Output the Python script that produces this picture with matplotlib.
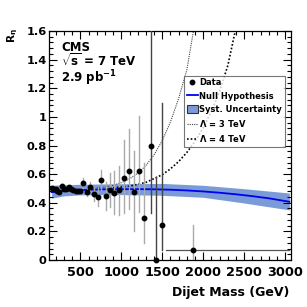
import matplotlib
matplotlib.use("Agg")
import matplotlib.pyplot as plt
from matplotlib.lines import Line2D
from matplotlib.patches import Patch
from matplotlib.ticker import MultipleLocator

plt.rcParams['font.family'] = ['DejaVu Sans']
plt.rcParams['font.weight'] = 'bold'
plt.rcParams['mathtext.fontset'] = 'custom'
plt.rcParams['mathtext.rm'] = 'DejaVu Sans'
plt.rcParams['mathtext.bf'] = 'DejaVu Sans:bold'
plt.rcParams['mathtext.it'] = 'DejaVu Sans:italic'
plt.rcParams['mathtext.default'] = 'bf'

# data points (dijet mass in GeV, ratio R_eta)
mass = [151, 175, 200, 219, 244, 273, 301, 329, 358, 386, 414, 444, 472, 500,
        536, 578, 622, 670, 712, 756, 809, 862, 914, 972, 1029, 1090, 1151,
        1216, 1280, 1358, 1427, 1500, 1870]
ratio = [0.501, 0.498, 0.494, 0.484, 0.475, 0.515, 0.494, 0.496, 0.508, 0.494,
         0.489, 0.484, 0.482, 0.480, 0.540, 0.475, 0.512, 0.459, 0.440, 0.559,
         0.447, 0.487, 0.470, 0.487, 0.575, 0.624, 0.473, 0.624, 0.296, 0.800,
         0.0, 0.247, 0.068]
err_lo = [0.008, 0.008, 0.008, 0.008, 0.008, 0.01, 0.01, 0.01, 0.01, 0.012,
          0.012, 0.012, 0.012, 0.012, 0.035, 0.025, 0.03, 0.045, 0.06, 0.07,
          0.10, 0.12, 0.15, 0.17, 0.245, 0.27, 0.27, 0.29, 0.18, 0.47,
          0.0, 0.18, 0.068]
err_hi = [0.008, 0.008, 0.008, 0.008, 0.008, 0.01, 0.01, 0.01, 0.01, 0.012,
          0.012, 0.012, 0.012, 0.012, 0.035, 0.025, 0.03, 0.045, 0.06, 0.07,
          0.10, 0.12, 0.15, 0.17, 0.263, 0.29, 0.29, 0.38, 0.38, 1.0,
          0.58, 0.85, 0.18]
dark_idx = [29, 30, 31]          # points drawn with dark error bars
last_xerr = [330, 1175]          # wide last bin

# null hypothesis and systematic band
null_m = [150, 250, 400, 600, 800, 1000, 1200, 1400, 1600, 1800, 2000, 2200,
          2400, 2600, 2800, 3050]
null_r = [0.474, 0.480, 0.486, 0.491, 0.494, 0.495, 0.495, 0.494, 0.491, 0.486,
          0.479, 0.470, 0.459, 0.446, 0.431, 0.407]
band_m = [150, 300, 500, 1000, 1500, 2000, 2500, 3050]
band_lo = [0.432, 0.448, 0.455, 0.457, 0.452, 0.438, 0.398, 0.350]
band_hi = [0.522, 0.526, 0.529, 0.533, 0.535, 0.522, 0.498, 0.468]

# contact interaction curves
lam3_m = [700, 800, 900, 1000, 1100, 1200, 1300, 1400, 1500, 1600, 1700, 1800, 1880]
lam3_r = [0.503, 0.509, 0.522, 0.540, 0.567, 0.605, 0.660, 0.735, 0.835, 0.965, 1.13, 1.33, 1.60]
lam4_m = [900, 1100, 1300, 1500, 1600, 1700, 1800, 1900, 2000, 2100, 2200, 2300, 2390]
lam4_r = [0.504, 0.516, 0.542, 0.596, 0.637, 0.688, 0.752, 0.830, 0.925, 1.04, 1.18, 1.36, 1.60]

xticks = [500, 1000, 1500, 2000, 2500, 3000]
yticks = [0, 0.2, 0.4, 0.6, 0.8, 1.0, 1.2, 1.4, 1.6]
ytick_labels = ['0', '0.2', '0.4', '0.6', '0.8', '1', '1.2', '1.4', '1.6']

W = 307
fig = plt.figure(figsize=(3.07, 3.07), dpi=100)
ax = fig.add_axes([49 / W, 1 - 260 / W, 242 / W, 229 / W])

band_col = '#7b9bd8'
ax.fill_between(band_m, band_lo, band_hi, color=band_col, lw=0, zorder=1)
ax.plot(null_m, null_r, color='#0000f0', lw=1.3, zorder=2)
ax.plot(lam3_m, lam3_r, color='#444444', lw=0.8, ls=(0, (1, 1)), zorder=2)
ax.plot(lam4_m, lam4_r, color='black', lw=1.2, ls=(0, (1, 1.2)), zorder=2)

for i in range(len(mass)):
    col = '#444444' if i in dark_idx else '#aaaaaa'
    ax.plot([mass[i], mass[i]], [ratio[i] - err_lo[i], ratio[i] + err_hi[i]],
            color=col, lw=1.0, zorder=3)
ax.plot([mass[-1] - last_xerr[0], mass[-1] + last_xerr[1]], [ratio[-1], ratio[-1]],
        color='#555555', lw=0.9, zorder=3)
ax.plot(mass, ratio, 'o', color='black', ms=3.2, zorder=4, clip_on=False)

ax.set_xlim(118, 3070)
ax.set_ylim(0, 1.6)
ax.set_xticks(xticks)
ax.set_yticks(yticks)
ax.set_yticklabels(ytick_labels)
ax.xaxis.set_minor_locator(MultipleLocator(100))
ax.yaxis.set_minor_locator(MultipleLocator(0.04))
ax.tick_params(which='both', direction='in', top=True, right=True, width=0.8)
ax.tick_params(which='major', length=6)
ax.tick_params(which='minor', length=3)
ax.tick_params(axis='x', pad=4.5, labelsize=9.3)
ax.tick_params(axis='y', pad=1.7, labelsize=8.2)
for s in ax.spines.values():
    s.set_linewidth(0.9)

fig.text(289 / W, 1 - 296 / W, 'Dijet Mass (GeV)', fontsize=9, ha='right', va='baseline')
fig.text(12.5 / W, 1 - 28 / W, r'R$_{\eta}$', fontsize=7.5, rotation=90,
         ha='center', va='top')

ax.text(12 / 242, (260 - 50.7) / 229, 'CMS', transform=ax.transAxes, fontsize=8.5, va='baseline')
ax.text(12 / 242, (260 - 66) / 229, r'$\sqrt{s}$ = 7 TeV', transform=ax.transAxes,
        fontsize=8.5, va='baseline')
ax.text(12 / 242, (260 - 82.7) / 229, r'2.9 pb$^{-1}$', transform=ax.transAxes,
        fontsize=8.5, va='baseline')

handles = [
    Line2D([], [], marker='o', color='black', ls='none', ms=3.2),
    Line2D([], [], color='#0000f0', lw=1.3),
    Patch(facecolor=band_col, edgecolor='#333333', lw=0.8),
    Line2D([], [], color='#444444', lw=0.8, ls=(0, (1, 1))),
    Line2D([], [], color='black', lw=1.2, ls=(0, (1, 1.2))),
]
labels = ['Data', 'Null Hypothesis', 'Syst. Uncertainty',
          r'$\mathrm{\Lambda}$ = 3 TeV', r'$\mathrm{\Lambda}$ = 4 TeV']
leg = ax.legend(handles, labels, loc='upper left', bbox_to_anchor=(0.559, 0.8035),
                fontsize=6, frameon=True, fancybox=False, borderpad=0.3,
                labelspacing=0.5, handlelength=1.35, handleheight=1.15,
                handletextpad=0.15, borderaxespad=0)
leg.get_frame().set_edgecolor('#555555')
leg.get_frame().set_linewidth(0.8)

fig.savefig('out.png', dpi=100)
